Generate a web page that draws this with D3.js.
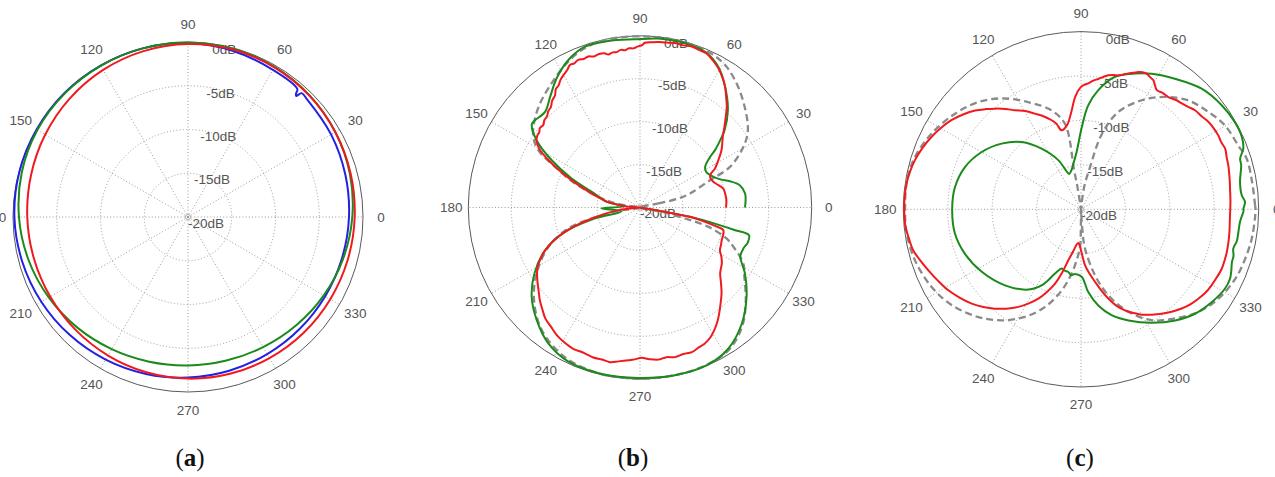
<!DOCTYPE html>
<html>
<head>
<meta charset="utf-8">
<script src="https://cdn.jsdelivr.net/npm/d3@7"></script>
<style>
body { margin: 0; background: #fff; }
</style>
</head>
<body>
<div id="chart"></div>
<script>
// tick labels
var angleTicks = [0, 30, 60, 90, 120, 150, 180, 210, 240, 270, 300, 330];
var dbTicks = [0, -5, -10, -15, -20];
var panelNames = ["a", "b", "c"];

// measured patterns, [angle (deg), level (dB)]
var blueA = [[0,-1.60],[15,-1.38],[30,-1.12],[45,-0.85],[47.5,-0.80],[48.2,-1.45],[48.8,-1.25],[49.5,-0.76],[60,-0.58],[75,-0.33],[90,-0.11],[105,-0.05],[120,-0.02],[135,0],[150,-0.02],[165,-0.05],[180,-0.16],[195,-0.38],[210,-0.64],[225,-0.91],[240,-1.18],[255,-1.43],[270,-1.65],[285,-1.81],[300,-1.90],[315,-1.93],[330,-1.89],[345,-1.78]];
var greenA = [[0,-1.22],[15,-0.85],[30,-0.56],[45,-0.35],[60,-0.19],[75,-0.1],[90,-0.05],[105,-0.05],[120,-0.05],[135,-0.06],[150,-0.12],[165,-0.33],[180,-0.68],[195,-1.12],[210,-1.62],[225,-2.12],[240,-2.56],[255,-2.88],[270,-3.04],[285,-3.02],[300,-2.83],[315,-2.50],[330,-2.08],[345,-1.64]];
var redA = [[0,-0.95],[15,-0.76],[30,-0.57],[45,-0.38],[60,-0.25],[75,-0.19],[90,-0.23],[105,-0.37],[120,-0.59],[135,-0.87],[150,-1.16],[165,-1.43],[180,-1.63],[195,-1.76],[210,-1.81],[225,-1.79],[240,-1.72],[255,-1.63],[270,-1.53],[285,-1.45],[300,-1.38],[315,-1.30],[330,-1.22],[345,-1.10]];

var grayB = [[0,-20],[12.3,-17.8],[13.2,-15.4],[15.6,-13.95],[21.3,-11.25],[24.3,-8.5],[29.4,-6.4],[33,-5.2],[36.8,-4.3],[43.8,-3.1],[50.8,-1.9],[58.4,-0.75],[65,-0.25],[72.7,-0.1],[79.5,-0.05],[86,-0.05],[95,-0.05],[103,-0.1],[110.3,-0.45],[117.8,-1.25],[125.5,-2.25],[133.9,-3.2],[141,-4.15],[146.5,-5.1],[150.6,-6.4],[154.4,-9.0],[159.7,-11.9],[165.6,-15.0],[171.3,-17.4],[180,-20],[188.7,-17.4],[192.8,-14.2],[196.3,-11.3],[203.2,-8.4],[212.6,-5.7],[221.2,-3.6],[231.3,-1.7],[243.3,-0.5],[255.9,-0.1],[269.4,-0.05],[282.8,-0.05],[293.2,-0.1],[302.5,-0.5],[311,-1.8],[318.7,-3.6],[326.4,-5.4],[331.5,-6.3],[337.2,-8.2],[340.3,-9.3],[344.2,-11.7],[346.3,-14.6],[348.7,-17.4]];
var greenB = [[0,-7.77],[7.6,-7.65],[12.6,-8.1],[16.3,-9.1],[19.3,-10.1],[24.8,-11.0],[28.4,-11.25],[32,-11.05],[35.9,-9.9],[37.4,-9.0],[40,-7.8],[42.3,-6.7],[48,-4.7],[54.8,-2.8],[60.9,-1.25],[67.3,-0.35],[74.7,-0.15],[83.8,-0.2],[91.7,-0.4],[100.8,-0.25],[108.9,-0.2],[115.9,-0.9],[122.9,-2.1],[129.1,-3.4],[134.8,-4.3],[140.3,-4.1],[142.4,-4.1],[146.9,-5.6],[151.8,-8.3],[157,-11.35],[162,-14.1],[170.4,-16.1],[175,-18.25],[181.5,-15.5],[191.3,-17.8],[194,-14.2],[198,-10.8],[204.2,-7.9],[212,-5.5],[219.5,-3.65],[227.5,-2.2],[236,-0.9],[245.1,-0.2],[257,-0.1],[269.4,-0.15],[281.7,-0.05],[293.2,-0.05],[302,-0.6],[311.2,-2.0],[320,-3.8],[327.8,-5.55],[331,-6.4],[334,-7.0],[338.4,-7.05],[342,-6.8],[345.7,-6.9],[346.6,-8.6],[347.5,-10.5],[349.4,-14.1],[350.5,-17.8],[352,-20]];
var redB = [[0,-9.98],[5,-9.9],[9.35,-9.95],[12.8,-10.05],[15.9,-10.5],[19.3,-10.95],[23.2,-11.1],[25.25,-10.9],[27.5,-10.15],[31.1,-9.35],[35.1,-8.4],[38.7,-7.7],[41,-7.2],[43.7,-6.4],[46.5,-5.5],[49.3,-4.5],[52,-3.7],[54.8,-2.8],[57.5,-2.1],[60.6,-1.4],[63.5,-0.9],[66.6,-0.45],[69.5,-0.4],[72.2,-0.3],[75,-0.45],[78,-0.4],[81,-0.55],[83.7,-0.6],[86,-0.7],[88.3,-0.8],[89.3,-1.1],[90.5,-1.2],[92.4,-1.45],[94,-1.4],[95.4,-1.6],[97,-1.5],[98.5,-1.7],[100,-1.65],[101.7,-1.8],[103,-1.55],[105.2,-1.5],[107,-1.6],[108.9,-1.4],[110.8,-1.5],[112.7,-1.35],[114.5,-1.55],[116.2,-1.5],[118,-1.9],[120.1,-2.2],[122,-2.5],[123.7,-2.9],[125.5,-3.1],[127.1,-3.6],[129.5,-3.9],[131.5,-4.35],[133.5,-4.5],[135.8,-4.85],[137.5,-4.9],[139.6,-5.2],[141.5,-5.1],[143.2,-5.35],[145,-5.4],[146.9,-5.6],[148.5,-6.0],[150.2,-6.6],[152,-7.6],[153.9,-8.8],[156,-10.1],[158.2,-11.4],[161,-12.9],[163.8,-14.1],[167.5,-15.4],[171.2,-16.5],[176.7,-18.6],[182,-20],[187,-17.5],[191.7,-15.0],[196,-12.1],[200.6,-9.4],[203,-8.4],[205.4,-7.5],[207.5,-6.9],[210.1,-6.2],[213,-5.7],[216.6,-5.15],[219.5,-4.7],[222.8,-4.1],[226,-3.6],[229.6,-3.0],[233,-2.7],[236.9,-2.25],[240.5,-2.0],[244.7,-1.8],[248.5,-1.85],[252.7,-1.7],[256,-1.75],[259,-1.65],[262,-1.9],[265.6,-2.15],[268,-2.3],[270.6,-2.5],[273.5,-2.3],[276.9,-2.15],[280,-2.3],[283.2,-2.1],[286.5,-2.2],[289.7,-2.1],[292.5,-2.3],[295.5,-2.45],[298.5,-2.8],[301.2,-3.3],[304,-3.9],[306.8,-4.6],[310,-5.4],[313.5,-6.2],[317,-7.1],[320.5,-7.9],[323,-8.2],[325.6,-8.45],[328.7,-8.9],[331.9,-9.45],[335,-9.6],[338.2,-9.75],[341.6,-9.8],[344.8,-9.95],[346.2,-11.0],[347.8,-12.5],[349.4,-14.1],[350.5,-17.8],[352,-20]];

var grayC = [[0,-0.35],[1.3,-0.4],[9.1,-0.5],[17,-0.5],[22.1,-0.9],[30.3,-1.25],[37.4,-1.95],[45.4,-2.8],[53.2,-4.2],[60.9,-5.95],[69,-8.25],[74.5,-11.2],[78,-15.2],[82,-17.5],[88,-20],[94,-20],[99,-17.5],[100,-15.5],[100.5,-10.3],[106.5,-8.4],[116,-6.6],[125.6,-4.65],[133.7,-3.3],[142.8,-2.2],[153.1,-1.15],[162.5,-0.4],[170.6,-0.15],[180,-0.2],[187.9,-0.2],[197.1,-0.45],[207.5,-1.05],[216.6,-1.9],[226.4,-3.25],[234.5,-4.65],[242.5,-6.35],[249.8,-8.3],[256.6,-10.6],[261.7,-12.7],[265.1,-14.25],[268.5,-15.75],[269.5,-18],[270,-20],[272,-20],[274,-17.5],[275.8,-15.55],[282,-12.4],[287.6,-9.85],[294.8,-7.3],[302.5,-5.2],[310.7,-3.8],[318.8,-2.45],[327,-1.55],[335.8,-0.95],[343.3,-0.7],[350.3,-0.5],[357,-0.4]];
var greenC = [[0,-1.73],[2.6,-1.52],[5,-1.84],[9.75,-1.84],[15.4,-1.3],[17.7,-1.2],[20.5,-0.5],[24.2,-0.15],[29.6,-0.1],[36.5,-0.3],[45,-0.8],[54.3,-1.9],[62.5,-2.8],[68.3,-3.55],[75.6,-4.6],[81.9,-6.5],[86.1,-8.3],[89.5,-10.8],[94.3,-13.5],[100,-14.9],[104,-15.5],[108.5,-15.8],[110.5,-15.5],[114.8,-13.9],[123,-11.85],[131.4,-9.9],[140.4,-8.4],[150,-7.1],[160,-6.1],[170,-5.6],[180,-5.5],[190.9,-5.55],[200.9,-6.0],[212.2,-6.8],[225,-7.9],[236.8,-9.2],[243.3,-10.55],[248,-12.2],[252,-13.0],[255,-12.85],[258.6,-12.8],[261.5,-12.5],[264.7,-12.7],[270.6,-12.4],[275,-10.65],[280.2,-9.0],[286.1,-7.6],[293.1,-6.4],[302,-4.95],[310.3,-3.6],[317.5,-2.6],[324.7,-1.95],[331.1,-1.5],[335,-1.5],[337.5,-1.7],[340.7,-2.0],[343,-2.05],[345.5,-2.3],[348.5,-2.1],[351.8,-2.1],[355.4,-2.05],[359.6,-1.7]];
var redC = [[0,-3.2],[3.5,-3.15],[6.6,-3.1],[11,-2.95],[16.6,-2.7],[19.5,-2.6],[22.8,-2.4],[25.5,-2.5],[28.3,-2.45],[31.5,-2.5],[34.4,-2.6],[37.5,-2.85],[41,-3.0],[43.5,-3.3],[46.4,-3.55],[49,-3.7],[52.1,-4.0],[55,-4.0],[57.5,-4.1],[59,-3.8],[60.7,-3.35],[62.5,-3.2],[64.2,-3.05],[65.8,-3.1],[67.3,-3.25],[69,-3.55],[70.8,-3.8],[72.5,-4.1],[74.4,-4.35],[76.5,-4.45],[78.5,-4.6],[80.5,-4.9],[82.4,-5.2],[84.5,-5.45],[86.7,-5.8],[88.5,-6.0],[90.3,-6.3],[92.9,-7.3],[95.9,-9.1],[99.4,-10.4],[103.75,-10.85],[106,-10.0],[108.2,-9.45],[112,-8.7],[115.7,-8.05],[119.5,-7.3],[123.7,-6.6],[127,-5.85],[130.5,-5.1],[133.5,-4.45],[137,-3.7],[141,-3.0],[145.5,-2.3],[150,-1.75],[154.2,-1.3],[159,-0.85],[163.6,-0.5],[167.5,-0.3],[171.6,-0.15],[176,-0.1],[180,-0.1],[185.75,-0.15],[189.5,-0.35],[193.7,-0.55],[197.5,-1.0],[201.8,-1.5],[206.5,-2.0],[211.4,-2.5],[216,-3.1],[220.8,-3.75],[225,-4.45],[229.1,-5.2],[233,-6.0],[237.3,-6.95],[241,-7.9],[244.5,-8.85],[247.5,-9.9],[250.7,-11.1],[253.5,-12.6],[256,-14.1],[259.5,-15.2],[262.9,-16.0],[265.5,-16.2],[268,-15.9],[270,-15.4],[274.1,-13.7],[277.5,-12.7],[280.9,-11.7],[284,-10.6],[287,-9.5],[290,-8.5],[293.5,-7.6],[297,-6.9],[300,-6.3],[304,-5.7],[307.7,-5.15],[311.5,-4.6],[315.4,-4.1],[319,-3.7],[322.7,-3.4],[326,-3.15],[329.8,-3.0],[333.5,-2.9],[337.1,-2.8],[340.5,-2.85],[343.7,-2.9],[347.5,-3.0],[351.3,-3.1],[355.5,-3.2]];

var blue = "#2121e6", green = "#1b8a1b", red = "#f01a1e", gray = "#8a8a8a";

// one panel per sub figure
var panels = [
  {cx: 188, cy: 217, R: 175, labelGap: 18, tagX: 190, closed: true,
   series: [{data: blueA, color: blue}, {data: greenA, color: green}, {data: redA, color: red}]},
  {cx: 640, cy: 207.5, R: 171.7, labelGap: 17, tagX: 633, closed: false,
   series: [{data: grayB, color: gray, dash: true, closed: true}, {data: greenB, color: green}, {data: redB, color: red}]},
  {cx: 1081, cy: 209.3, R: 177.7, labelGap: 18, tagX: 1080, closed: true,
   series: [{data: grayC, color: gray, dash: true}, {data: greenC, color: green}, {data: redC, color: red}]}
];

var svg = d3.select("#chart")
  .append("svg")
  .attr("width", 1275)
  .attr("height", 477)
  .style("font-family", "'Liberation Sans', Arial, sans-serif");

var rad = function(deg) { return deg * Math.PI / 180; };

panels.forEach(function(p, i) {
  var g = svg.append("g")
    .attr("transform", "translate(" + p.cx + "," + p.cy + ")");

  var r = d3.scaleLinear()
    .domain([-20, 0])
    .range([0, p.R])
    .clamp(true);

  // dotted rings and spokes
  g.selectAll(".ring")
    .data(dbTicks.filter(function(d) { return d > -20 && d < 0; }))
    .enter()
    .append("circle")
      .attr("r", function(d) { return r(d); })
      .style("fill", "none")
      .style("stroke", "#9a9a9a")
      .style("stroke-width", 1)
      .style("stroke-dasharray", "1,2.2");

  // small ring marking the centre
  g.append("circle")
    .attr("r", 2.5)
    .style("fill", "none")
    .style("stroke", "#9a9a9a")
    .style("stroke-width", 0.8);

  g.selectAll(".spoke")
    .data(angleTicks)
    .enter()
    .append("line")
      .attr("x1", 0)
      .attr("y1", 0)
      .attr("x2", function(d) { return r(0) * Math.cos(rad(d)); })
      .attr("y2", function(d) { return -r(0) * Math.sin(rad(d)); })
      .style("stroke", "#9a9a9a")
      .style("stroke-width", 1)
      .style("stroke-dasharray", "1,2.2");

  g.append("circle")
    .attr("r", r(0))
    .style("fill", "none")
    .style("stroke", "#5a5a5a")
    .style("stroke-width", 1);

  // angle labels
  g.selectAll(".alab")
    .data(angleTicks)
    .enter()
    .append("text")
      .attr("x", function(d) { return (p.R + p.labelGap) * Math.cos(rad(d)); })
      .attr("y", function(d) { return -(p.R + p.labelGap) * Math.sin(rad(d)); })
      .attr("text-anchor", "middle")
      .attr("dominant-baseline", "central")
      .style("font-size", "13.5px")
      .style("fill", "#555")
      .text(function(d) { return d; });

  // dB labels along the 82 deg line
  g.selectAll(".rlab")
    .data(dbTicks)
    .enter()
    .append("text")
      .attr("x", function(d) { return r(d) * Math.cos(rad(82)); })
      .attr("y", function(d) { return -r(d) * Math.sin(rad(82)) + 6; })
      .attr("dominant-baseline", "central")
      .style("font-size", "13.5px")
      .style("fill", "#555")
      .text(function(d) { return d + "dB"; });

  // patterns
  p.series.forEach(function(s) {
    var closed = s.closed !== undefined ? s.closed : p.closed;
    var line = d3.lineRadial()
      .angle(function(d) { return rad(90 - d[0]); })
      .radius(function(d) { return r(d[1]); })
      .curve(closed ? d3.curveCatmullRomClosed.alpha(0.5) : d3.curveCatmullRom.alpha(0.5));

    g.append("path")
      .datum(s.data)
      .attr("d", line)
      .style("fill", "none")
      .style("stroke", s.color)
      .style("stroke-width", s.dash ? 2.3 : 2)
      .style("stroke-dasharray", s.dash ? "7,4" : null)
      .style("stroke-linejoin", "round");
  });

  // sub figure tag
  var tag = svg.append("text")
    .attr("x", p.tagX)
    .attr("y", 466)
    .attr("text-anchor", "middle")
    .style("font-family", "'Liberation Serif', 'Times New Roman', serif")
    .style("font-size", "25px")
    .style("fill", "#111");
  tag.append("tspan").text("(");
  tag.append("tspan").style("font-weight", "bold").text(panelNames[i]);
  tag.append("tspan").text(")");
});
</script>
</body>
</html>
